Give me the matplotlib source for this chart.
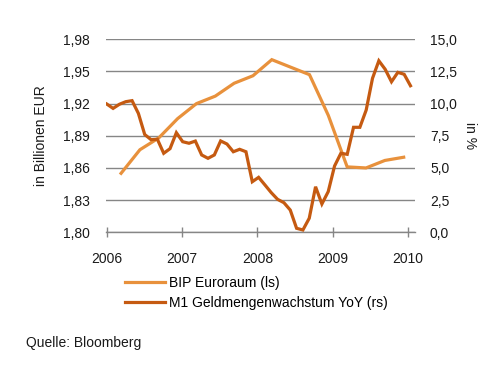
import numpy as np
import matplotlib
matplotlib.use("Agg")
import matplotlib.pyplot as plt
from matplotlib.ticker import FuncFormatter

plt.rcParams['font.family'] = ['Liberation Sans', 'DejaVu Sans']

# ---- data ----
bip_dates = [2006.19 + 0.25 * k for k in range(16)]
bip_values = [1.855, 1.877, 1.888, 1.906, 1.920, 1.927, 1.939, 1.946,
              1.961, 1.954, 1.947, 1.909, 1.861, 1.860, 1.867, 1.870]

m1_values = [9.97, 9.63, 9.95, 10.15, 10.23, 9.24, 7.60, 7.20, 7.23, 6.14,
             6.50, 7.74, 7.04, 6.92, 7.09, 6.01, 5.75, 6.01, 7.10, 6.86,
             6.26, 6.45, 6.26, 3.93, 4.27, 3.68, 3.08, 2.56, 2.30, 1.73,
             0.31, 0.18, 1.09, 3.54, 2.20, 3.16, 5.15, 6.14, 6.06, 8.16,
             8.16, 9.50, 11.97, 13.33, 12.67, 11.70, 12.43, 12.28, 11.39]
m1_dates = list(np.linspace(2006.0, 2010.03, len(m1_values)))

year_ticks = [2006, 2007, 2008, 2009, 2010]
left_ticks = [1.80, 1.83, 1.86, 1.89, 1.92, 1.95, 1.98]
right_ticks = [0.0, 2.5, 5.0, 7.5, 10.0, 12.5, 15.0]

bip_label = "BIP Euroraum (ls)"
m1_label = "M1 Geldmengenwachstum YoY (rs)"
left_ylabel = "in Billionen EUR"
right_ylabel = "in %"
source = "Quelle: Bloomberg"

c_bip = "#E8913C"
c_m1 = "#C55A11"
c_grid = "#868686"
c_text = "#1a1a1a"

fig = plt.figure(figsize=(5, 3.69), dpi=100)
ax = fig.add_axes([0.212, 0.3705, 0.618, 0.523])
ax2 = ax.twinx()

l1, = ax.plot(bip_dates, bip_values, color=c_bip, lw=2.3, solid_joinstyle='miter', label=bip_label, zorder=3)
l2, = ax2.plot(m1_dates, m1_values, color=c_m1, lw=2.3, solid_joinstyle='miter', label=m1_label, zorder=3)

ax.set_xlim(2005.99, 2010.09)
ax.set_ylim(1.80, 1.98)
ax2.set_ylim(0, 15)

ax.set_xticks(year_ticks)
ax.set_xticklabels([str(y) for y in year_ticks])
ax.set_yticks(left_ticks)
ax.yaxis.set_major_formatter(FuncFormatter(lambda v, p: f"{v:.2f}".replace('.', ',')))
ax2.set_yticks(right_ticks)
ax2.yaxis.set_major_formatter(FuncFormatter(lambda v, p: f"{v:.1f}".replace('.', ',')))

ax.grid(axis='y', color=c_grid, lw=1.0)
ax.set_axisbelow(True)

for a in (ax, ax2):
    for s in ('top', 'left', 'right'):
        a.spines[s].set_visible(False)
    a.spines['bottom'].set_color(c_grid)
    a.spines['bottom'].set_linewidth(1.0)
ax2.spines['bottom'].set_visible(False)

ax.tick_params(axis='x', direction='inout', length=7, width=1, color=c_grid,
               labelsize=10, pad=10.5, labelcolor=c_text)
ax.tick_params(axis='y', length=0, pad=11.5, labelsize=10, labelcolor=c_text)
ax2.tick_params(axis='y', length=0, pad=10.8, labelsize=10, labelcolor=c_text)

ax.set_ylabel(left_ylabel, fontsize=10, color=c_text, va='center', ha='center')
ax.yaxis.set_label_coords(-0.211, 0.5)
ax2.set_ylabel(right_ylabel, fontsize=10, color=c_text, rotation=270, va='center', ha='center')
ax2.yaxis.set_label_coords(1.177, 0.5)

fig.legend(handles=[l1, l2], loc='upper left', bbox_to_anchor=(0.25, 0.252),
           frameon=False, fontsize=10, handlelength=2.9, handletextpad=0.3,
           labelspacing=0.45, borderaxespad=0, borderpad=0)

fig.text(0.052, (369 - 343.3) / 369, source, fontsize=10, color=c_text,
         ha='left', va='center')

fig.savefig("out.png", dpi=100)
